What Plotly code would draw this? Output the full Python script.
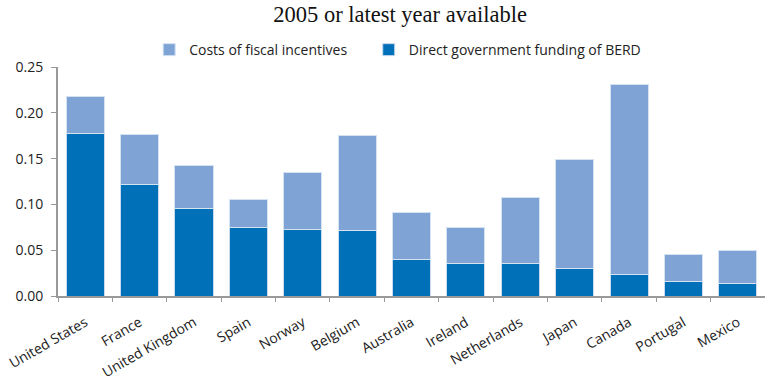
import plotly.graph_objects as go

countries = ["United States", "France", "United Kingdom", "Spain", "Norway", "Belgium",
             "Australia", "Ireland", "Netherlands", "Japan", "Canada", "Portugal", "Mexico"]
direct = [0.177, 0.122, 0.095, 0.075, 0.073, 0.071, 0.040, 0.035, 0.035, 0.030, 0.024, 0.016, 0.014]
total = [0.218, 0.176, 0.142, 0.105, 0.135, 0.175, 0.091, 0.075, 0.107, 0.149, 0.231, 0.045, 0.050]
fiscal = [round(t - d, 4) for t, d in zip(total, direct)]
y_ticks = [0.00, 0.05, 0.10, 0.15, 0.20, 0.25]

fig = go.Figure()
fig.add_trace(go.Bar(x=countries, y=direct, name="Direct government funding of BERD",
                     marker=dict(color="#0070B8", line=dict(color="#C9DAEF", width=1)),
                     width=0.7, legend="legend3", showlegend=True))
fig.add_trace(go.Bar(x=countries, y=fiscal, name="Costs of fiscal incentives",
                     marker=dict(color="#7FA3D5", line=dict(color="#D5E2F2", width=1)),
                     width=0.7, legend="legend2", showlegend=True))


def legend_at(x):
    return dict(orientation="h", xref="container", x=x, xanchor="left",
                yref="container", y=0.869, yanchor="middle", itemwidth=30,
                visible=True,
                font=dict(family="Open Sans", size=14, color="#222"))


fig.update_layout(
    barmode="stack",
    showlegend=True,
    width=765, height=382,
    margin=dict(l=58, r=0, t=67, b=86),
    plot_bgcolor="white", paper_bgcolor="white",
    font=dict(family="Open Sans", size=12, color="#222"),
    title=dict(text="2005 or latest year available", xref="container", x=0.523,
               xanchor="center", yref="container", y=0.962, yanchor="middle",
               font=dict(family="Liberation Serif", size=22.5, color="#111")),
    legend2=legend_at(0.195),
    legend3=legend_at(0.482),
    bargap=0.3,
)
fig.update_xaxes(showline=True, linecolor="#999", linewidth=2, ticks="outside",
                 tickson="boundaries", ticklen=4, tickcolor="#999", tickangle=-30,
                 ticklabelstandoff=11, automargin=False,
                 tickfont=dict(size=14, color="#222"), showgrid=False)
fig.update_yaxes(range=[0, 0.25], tickvals=y_ticks, tickformat=".2f", showline=True,
                 linecolor="#999", linewidth=2, ticks="outside", ticklen=5,
                 tickcolor="#999", showgrid=False, zeroline=False, automargin=False,
                 ticklabelstandoff=5,
                 tickfont=dict(size=14, color="#222"))

fig.write_html("out.html", config={"displayModeBar": False},
               post_script="document.body.style.margin='0';")
